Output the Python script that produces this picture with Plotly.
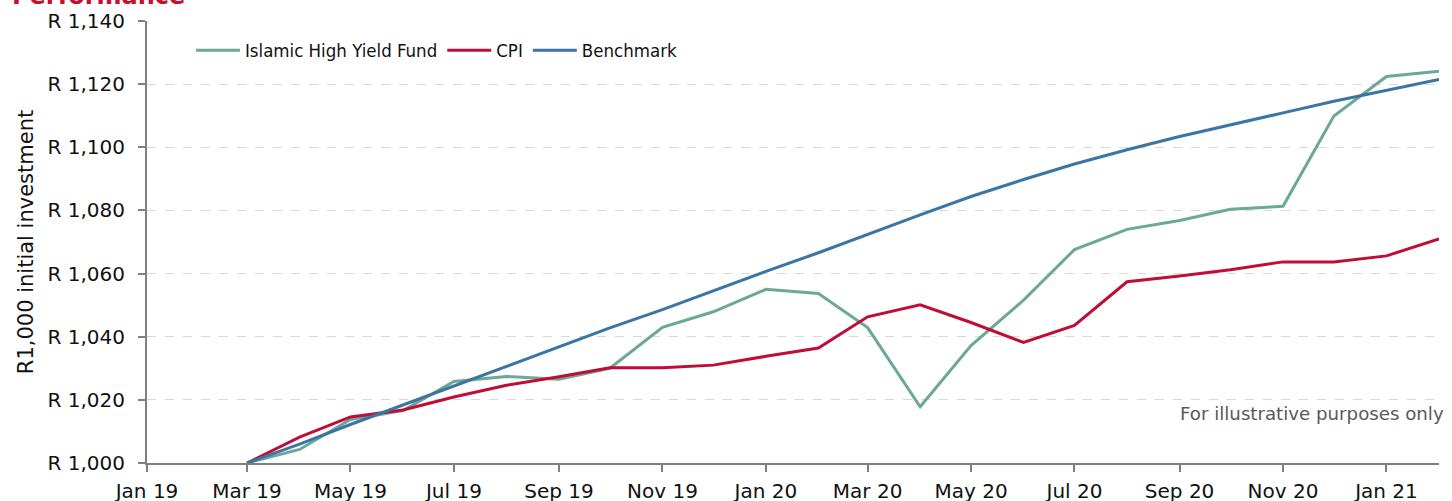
import plotly.graph_objects as go

months = ["2019-03-01", "2019-04-01", "2019-05-01", "2019-06-01", "2019-07-01", "2019-08-01",
          "2019-09-01", "2019-10-01", "2019-11-01", "2019-12-01", "2020-01-01", "2020-02-01",
          "2020-03-01", "2020-04-01", "2020-05-01", "2020-06-01", "2020-07-01", "2020-08-01",
          "2020-09-01", "2020-10-01", "2020-11-01", "2020-12-01", "2021-01-01", "2021-02-01"]

fund = [1000, 1004.3, 1013.8, 1016.6, 1025.8, 1027.4, 1026.5, 1030.0, 1043.0, 1047.9, 1055.0, 1053.7,
        1042.9, 1017.8, 1037.2, 1051.6, 1067.6, 1074.0, 1076.8, 1080.4, 1081.3, 1109.9, 1122.4, 1124.1]

cpi = [1000, 1008.2, 1014.6, 1016.8, 1020.9, 1024.6, 1027.3, 1030.2, 1030.2, 1031.0, 1033.8, 1036.4,
       1046.3, 1050.1, 1044.5, 1038.2, 1043.6, 1057.4, 1059.2, 1061.2, 1063.7, 1063.7, 1065.6, 1071.0]

benchmark = [1000, 1006.0, 1012.2, 1018.4, 1024.6, 1030.8, 1036.9, 1042.8, 1048.6, 1054.6, 1060.7, 1066.6,
             1072.5, 1078.6, 1084.4, 1089.8, 1094.7, 1099.2, 1103.4, 1107.2, 1110.9, 1114.6, 1118.1, 1121.5]

y_ticks = [1000, 1020, 1040, 1060, 1080, 1100, 1120, 1140]
y_tick_labels = ["R " + f"{v:,}" for v in y_ticks]

series_names = ["Islamic High Yield Fund", "CPI", "Benchmark"]
colors = ["#6BA898", "#C00D36", "#3B75A4"]

fig = go.Figure()
for name, vals, col in zip(series_names, [fund, cpi, benchmark], colors):
    fig.add_trace(go.Scatter(x=months, y=vals, mode="lines", name=name,
                             line=dict(color=col, width=3)))

fig.update_layout(
    width=1452, height=501,
    margin=dict(l=147, r=13, t=21, b=38, autoexpand=False),
    paper_bgcolor="white", plot_bgcolor="white",
    font=dict(family="DejaVu Sans", size=20, color="#111111"),
    showlegend=True,
    legend=dict(orientation="h", x=0.034, y=0.976, xanchor="left", yanchor="top",
                font=dict(family="DejaVu Sans Condensed, DejaVu Sans", size=18.5, color="#111111"),
                bgcolor="rgba(0,0,0,0)", itemwidth=44, tracegroupgap=0),
    xaxis=dict(type="date", range=["2019-01-01", "2021-02-01"],
               tick0="2019-01-01", dtick="M2", tickformat="%b %y",
               showgrid=False, showline=True, linecolor="#808080", linewidth=2,
               ticks="outside", ticklen=7, tickwidth=2, tickcolor="#808080",
               ticklabelstandoff=2, automargin=False,
               tickfont=dict(size=20, color="#111111"), zeroline=False),
    yaxis=dict(range=[1000, 1140], tickvals=y_ticks, ticktext=y_tick_labels,
               showgrid=True, gridcolor="#D9D9D9", griddash="dash", gridwidth=1,
               showline=True, linecolor="#808080", linewidth=2,
               ticks="outside", ticklen=7, tickwidth=2, tickcolor="#808080",
               ticklabelstandoff=9, automargin=False,
               tickfont=dict(size=20, color="#111111"), zeroline=False,
               title=dict(text="R1,000 initial investment", font=dict(size=21, color="#111111"),
                          standoff=8)),
    annotations=[
        dict(text="<b>Performance</b>", xref="paper", yref="paper",
             x=-0.1057, y=1.021, xanchor="left", yanchor="bottom", showarrow=False,
             font=dict(family="DejaVu Sans", size=24, color="#C8102E")),
        dict(text="For illustrative purposes only", xref="paper", yref="paper",
             x=1.0056, y=0.111, xanchor="right", yanchor="middle", showarrow=False,
             font=dict(family="DejaVu Sans", size=18.2, color="#595959")),
    ],
)

fig.write_html("out.html", config={"displayModeBar": False},
               post_script="document.body.style.margin='0';document.body.style.overflow='hidden';")
